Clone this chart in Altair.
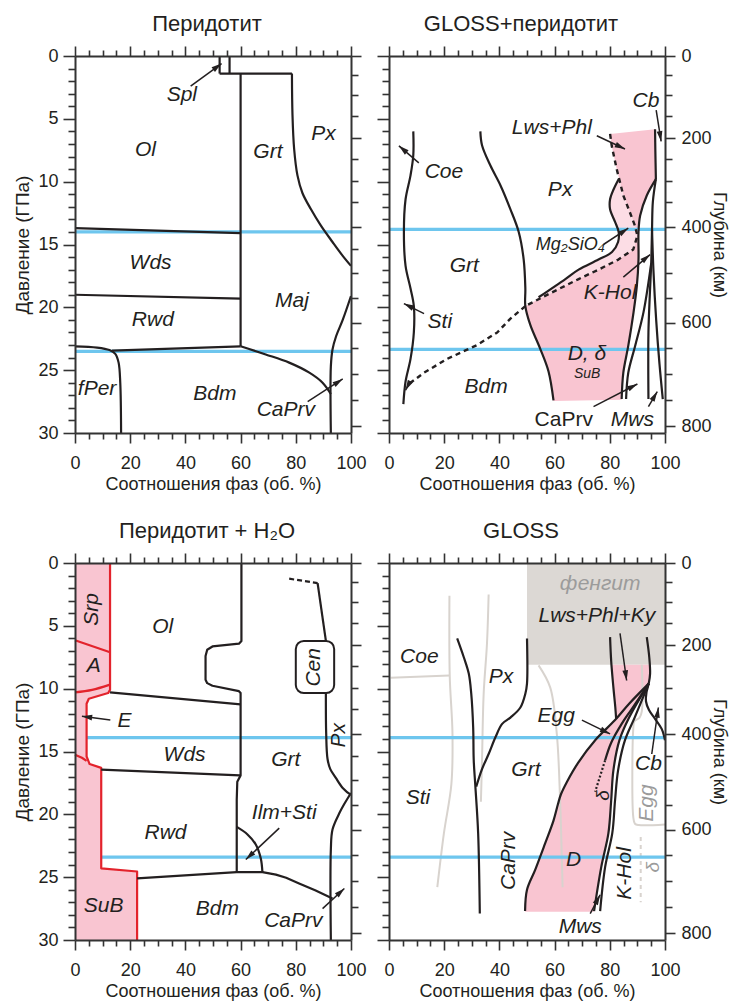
import math
import altair as alt
import pandas as pd

FONT = "Liberation Sans"
INK = "#231f20"
FRAME = "#333333"
BLUE = "#6ec6ee"
PINK = "#f9c5d1"
PINK_HATCH = "#fcdde5"
RED = "#e3232c"
GRAY_FILL = "#dcd8d4"
GRAY_LINE = "#d8d3ce"
GRAY_TEXT = "#9b9b9b"

W, H = 276, 377

# ---------------- axis ticks ----------------
X_TICKS = [0, 5, 10, 15, 20, 25, 30, 35, 40, 45, 50, 55, 60, 65, 70, 75, 80, 85, 90, 95, 100]
Y_TICKS = list(range(0, 31))
DEPTH_KM = [0, 50, 100, 150, 200, 250, 300, 350, 400, 450, 500, 550, 600, 650, 700, 750, 800]
DEPTH_GPA = [0.0, 1.49, 3.14, 4.81, 6.54, 8.19, 9.92, 11.65, 13.64, 15.37, 17.29, 19.23,
             21.22, 23.21, 25.27, 27.34, 29.47]

# ---------------- panel 1: Перидотит ----------------
P1_SPL_L = [(52.4, 0), (52.4, 1.4)]
P1_SPL_R = [(56.0, 0), (56.0, 1.4)]
P1_TOP = [(52.4, 1.4), (78.6, 1.4)]
P1_V60 = [(60, 1.4), (60, 23.1)]
P1_OL_WDS = [(0, 13.7), (60, 14.1)]
P1_WDS_RWD = [(0, 19.0), (60, 19.3)]
P1_RWD_BDM = [(13.4, 23.45), (60, 23.1)]
P1_GRT_PX = [(78.6, 1.4), (78.8, 4.7), (79.4, 7.4), (80.6, 9.5), (82.4, 10.9), (85.5, 12.2),
             (89.1, 13.5), (93.3, 14.8), (97.0, 15.9), (100, 16.7)]
P1_FPER = [(0, 23.1), (8, 23.2), (12.5, 23.4), (14.6, 23.7), (15.8, 24.4), (16.4, 26.0), (16.7, 30)]
P1_MAJ_BDM = [(60, 23.1), (69.1, 23.75), (77.6, 24.4), (84.9, 25.2), (89.7, 26.0), (92.7, 26.9)]
P1_CAPRV = [(92.7, 30), (92.7, 24.7), (93.3, 23.35), (94.6, 22.3), (97.0, 21.0), (100, 19.1)]
P1_BLUE = [(14.0, 0, 100), (23.5, 0, 100)]
P1_LABELS = [("Spl", 38.7, 3.1, 0, 21), ("Ol", 25.5, 7.5, 0, 21), ("Grt", 69.9, 7.6, 0, 21),
             ("Px", 90.0, 6.2, 0, 21), ("Wds", 27.4, 16.5, 0, 21), ("Maj", 78.6, 19.5, 0, 21),
             ("Rwd", 28.2, 21.0, 0, 21), ("fPer", 8.0, 26.5, 0, 21), ("Bdm", 50.7, 26.9, 0, 21),
             ("CaPrv", 76.4, 28.2, 0, 21)]
P1_ARROWS = [(41.9, 2.4, 53.1, 0.6), (84.3, 27.5, 97.0, 25.7)]

# ---------------- panel 2: GLOSS+перидотит ----------------
P2_COE = [(8.8, 6.0), (8.8, 7.9), (7.8, 9.5), (6.0, 11.4), (5.4, 14.0), (6.0, 16.7), (7.8, 18.5),
          (9.0, 19.9), (9.0, 22.0), (7.8, 24.1), (6.0, 25.9), (5.2, 27.7)]
P2_GRT = [(33.1, 6.0), (33.7, 7.1), (36.7, 8.7), (40.4, 10.3), (44.0, 12.2), (47.0, 14.0), (48.8, 16.2),
          (49.4, 18.5), (49.4, 19.9), (51.2, 21.4), (54.8, 23.3), (57.8, 25.1), (59.6, 27.4)]
P2_MGSI = [(83.2, 9.8), (81.4, 10.6), (80.1, 11.4), (80.1, 12.2), (81.9, 13.2), (83.2, 14.0), (83.0, 14.8),
           (80.8, 15.6), (75.9, 16.2), (68.7, 17.0), (63.9, 17.75), (54.2, 19.2)]
P2_DASH_UP = [(80.1, 6.2), (80.7, 7.15), (82.5, 9.0), (84.9, 11.1), (87.3, 12.45), (89.1, 13.5), (90.0, 14.3),
              (88.5, 15.4), (83.1, 16.2), (75.9, 17.0), (68.7, 17.75), (57.8, 18.95), (49.4, 19.9)]
P2_DASH_LOW = [(49.4, 19.9), (44.0, 20.9), (39.2, 22.0), (31.9, 23.0), (21.1, 24.1), (12.7, 25.2), (7.2, 26.1)]
P2_EDGE = [(96.4, 5.83), (96.5, 7.5), (96.7, 9.8)]
P2_LA = [(96.7, 9.8), (93.4, 11.1), (91.0, 12.7), (90.4, 14.0), (90.4, 16.2), (89.8, 18.3), (88.6, 20.4),
         (86.7, 23.05), (84.9, 25.2), (84.3, 27.3)]
P2_LB = [(95.0, 16.5), (92.2, 20.4), (89.2, 23.05), (86.7, 25.2), (85.9, 27.3)]
P2_LC = [(96.7, 9.8), (95.6, 11.6), (95.3, 13.8), (95.0, 16.5), (94.5, 19.0), (94.0, 22.0), (94.0, 27.3)]
P2_LD = [(95.3, 13.8), (95.8, 17.0), (96.8, 21.0), (98.0, 24.5), (99.2, 27.3)]
P2_PINK = [(80.1, 6.2), (96.4, 5.83), (96.5, 7.5), (96.7, 9.8), (93.4, 11.1), (91.0, 12.7), (90.4, 14.0),
           (90.4, 16.2), (89.8, 18.3), (88.6, 20.4), (86.7, 23.05), (84.9, 25.2), (84.3, 27.35),
           (59.6, 27.45), (57.8, 25.1), (54.8, 23.3), (51.2, 21.4), (49.4, 19.9), (57.8, 18.95),
           (68.7, 17.75), (75.9, 17.0), (83.1, 16.2), (88.5, 15.4), (90.0, 14.3), (89.1, 13.5),
           (87.3, 12.45), (84.9, 11.1), (82.5, 9.0), (80.7, 7.15)]
P2_HATCH = [(83.2, 9.8), (81.4, 10.6), (80.1, 11.4), (80.1, 12.2), (81.9, 13.2), (83.2, 14.0), (83.0, 14.8),
            (80.8, 15.6), (75.9, 16.2), (68.7, 17.0), (63.9, 17.75), (54.2, 19.2), (52.0, 19.6),
            (57.8, 18.95), (68.7, 17.75), (75.9, 17.0), (83.1, 16.2), (88.5, 15.4), (90.0, 14.3),
            (89.1, 13.5), (87.3, 12.45), (84.9, 11.1), (83.6, 9.9)]
P2_BLUE = [(13.8, 0, 100), (23.35, 0, 100)]
P2_LABELS = [("Coe", 19.9, 9.2, 0, 21), ("Sti", 18.4, 21.2, 0, 21), ("Grt", 27.3, 16.7, 0, 21),
             ("Px", 62.0, 10.7, 0, 21), ("Lws+Phl", 59.0, 5.75, 0, 21), ("Cb", 93.1, 3.6, 0, 21),
             ("Mg₂SiO₄", 65.7, 15.0, 0, 18), ("K-Hol", 80.1, 18.85, 0, 21), ("D, δ", 71.7, 23.75, 0, 21),
             ("SuB", 71.8, 25.3, 0, 14), ("Bdm", 35.2, 26.3, 0, 21), ("Mws", 88.2, 29.0, 0, 21)]
P2_LABELS_UPRIGHT = [("CaPrv", 63.3, 29.0, 0, 21)]
P2_ARROWS = [(10.8, 8.5, 3.6, 7.15), (12.7, 20.5, 5.4, 19.7), (75.3, 6.35, 85.5, 7.4),
             (96.8, 4.3, 98.6, 6.8), (77.7, 15.0, 86.7, 13.7), (84.9, 17.6, 94.6, 15.8),
             (74.1, 27.9, 90.0, 26.1), (94.0, 27.9, 97.2, 26.7), (7.2, 26.1, 6.0, 26.6)]

# ---------------- panel 3: Перидотит + H2O ----------------
P3_PINK = [(0, 0), (12.7, 0), (12.7, 10.1), (12.0, 10.35), (5.0, 10.8), (4.2, 11.2), (4.2, 15.4),
           (5.3, 16.0), (9.5, 16.3), (9.5, 24.3), (22.5, 24.55), (22.5, 30), (0, 30)]
P3_RED_OUT = [(12.7, 0), (12.7, 10.1), (12.0, 10.35), (5.0, 10.8), (4.2, 11.2), (4.2, 15.4),
              (5.3, 16.0), (9.5, 16.3), (9.5, 24.3), (22.5, 24.55), (22.5, 30)]
P3_RED_SRP = [(0, 6.15), (12.7, 7.1)]
P3_RED_A = [(0, 10.3), (6.2, 10.1), (12.4, 9.7)]
P3_RED_E = [(0, 15.25), (2.5, 15.5), (4.2, 15.75)]
P3_OL_WDS = [(12.7, 10.3), (60, 11.25)]
P3_WDS_RWD = [(9.5, 16.45), (59.8, 16.9)]
P3_OL_GRT = [(60.3, 0), (60.3, 6.2), (59.4, 6.42), (49.8, 6.64), (47.9, 6.9), (47.3, 7.4), (47.3, 9.3),
             (47.9, 9.56), (49.8, 9.77), (59.4, 10.2), (60, 10.35), (60, 16.9), (58.8, 17.4),
             (58.6, 18.85), (58.6, 24.6)]
P3_BDM = [(22.5, 25.1), (58.6, 24.6), (67.9, 24.6), (72.8, 24.8), (76.5, 25.05), (81.2, 25.5),
          (87.0, 26.05), (93.3, 26.7)]
P3_ILM = [(58.6, 21.0), (62.5, 21.6), (65.5, 22.4), (67.3, 23.5), (67.9, 24.6)]
P3_PX_DASH = [(77.6, 1.25), (87.9, 1.6)]
P3_PX_TOP = [(87.9, 1.6), (90.9, 6.2)]
P3_PX_LOW = [(90.9, 10.35), (91.0, 13.5), (91.5, 15.6), (92.5, 16.4), (94.5, 17.1), (97.0, 17.9), (100, 18.45)]
P3_CAPRV = [(100, 18.3), (97.5, 19.2), (95.8, 19.9), (93.3, 21.2), (92.7, 22.8), (92.7, 30)]
P3_CEN = [(80.0, 93.9, 6.2, 10.35)]
P3_BLUE = [(13.9, 4.2, 100), (23.4, 9.5, 100)]
P3_LABELS = [("Srp", 6.2, 3.7, 270, 21), ("A", 6.8, 8.2, 0, 21), ("Ol", 31.8, 5.1, 0, 21),
             ("Cen", 86.7, 8.3, 270, 21), ("E", 17.9, 12.6, 0, 21), ("Wds", 39.7, 15.3, 0, 21),
             ("Grt", 76.4, 15.7, 0, 21), ("Px", 95.5, 13.7, 270, 21), ("Ilm+Sti", 75.8, 19.9, 0, 21),
             ("Rwd", 32.8, 21.5, 0, 21), ("SuB", 10.4, 27.3, 0, 21), ("Bdm", 51.6, 27.5, 0, 21),
             ("CaPrv", 79.1, 28.5, 0, 21)]
P3_ARROWS = [(12.8, 12.5, 2.5, 12.2), (74.0, 21.1, 61.9, 23.6), (89.7, 27.5, 97.6, 25.9)]

# ---------------- panel 4: GLOSS ----------------
P4_PHENGITE = [(50.0, 100.0, 0.0, 8.1)]
P4_GRAY = [
    [(0.6, 9.13), (21.9, 8.95)],
    [(21.9, 2.6), (22.0, 8.95), (23.0, 13.6), (22.6, 17.6), (19.9, 21.5), (17.5, 25.8)],
    [(36.1, 2.5), (35.5, 6.4), (34.3, 10.4), (33.7, 15.7), (33.3, 19.0)],
    [(54.2, 8.15), (58.4, 9.9), (60.8, 13.6), (62.0, 18.9), (62.7, 24.2), (62.9, 25.8)],
    [(91.6, 8.1), (91.6, 11.8), (90.8, 12.3), (88.9, 12.6), (88.5, 13.2), (88.5, 20.2), (89.1, 20.75),
     (90.5, 20.85), (100, 20.8)],
]
P4_GRAY_DASH = [(91.2, 21.8), (91.2, 27.0)]
P4_STI_PX = [(24.7, 6.0), (27.1, 7.5), (28.9, 8.8), (29.8, 10.4), (30.5, 13.1), (30.7, 15.7), (31.3, 17.8),
             (32.3, 21.5), (32.9, 27.9)]
P4_PX_GRT = [(50.0, 6.0), (50.0, 9.6), (49.4, 10.4), (47.6, 11.5), (44.0, 12.3), (41.0, 12.8), (38.6, 13.85),
             (36.1, 15.2), (33.7, 16.4), (31.6, 17.8)]
P4_LWS = [(80.1, 5.9), (80.5, 7.8), (81.3, 9.9), (82.0, 11.5), (82.3, 12.4)]
P4_CB = [(93.4, 5.9), (94.3, 7.5), (94.6, 8.8), (94.1, 9.6), (93.3, 10.3), (93.1, 11.0), (94.2, 11.7),
         (96.4, 12.4), (98.8, 13.2), (100, 14.1)]
P4_FAN1 = [(94.1, 9.6), (87.0, 11.2), (81.9, 12.5), (74.7, 14.1), (68.5, 15.9), (64.5, 17.4), (62.3, 18.4),
           (61.2, 19.2), (59.6, 20.5), (56.6, 22.3), (53.0, 24.4), (50.0, 26.0), (49.3, 27.7)]
P4_FAN2 = [(94.1, 9.6), (88.0, 11.6), (84.3, 12.8), (80.5, 14.3), (78.3, 15.7)]
P4_FAN2_DOT = [(78.3, 15.7), (74.7, 18.2)]
P4_FAN3 = [(94.1, 9.6), (87.0, 12.3), (83.5, 14.1), (81.3, 16.5), (80.5, 18.9), (79.5, 21.5), (76.9, 24.2),
           (74.3, 27.7)]
P4_FAN4 = [(94.1, 9.6), (89.0, 12.3), (85.5, 14.1), (83.0, 16.5), (81.9, 18.9), (80.9, 21.5), (78.3, 24.2),
           (76.5, 27.7)]
P4_PINK = [(80.7, 8.1), (94.6, 8.1), (94.4, 8.8), (94.1, 9.6), (87.0, 12.3), (83.5, 14.1), (81.3, 16.5),
           (80.5, 18.9), (79.5, 21.5), (76.9, 24.2), (74.3, 27.75), (49.3, 27.75), (50.0, 26.0),
           (53.0, 24.4), (56.6, 22.3), (59.6, 20.5), (61.2, 19.2), (62.3, 18.4), (64.5, 17.4),
           (68.5, 15.9), (74.7, 14.1), (81.9, 12.5), (82.0, 11.5), (81.3, 9.9), (80.8, 8.5)]
P4_BLUE = [(13.9, 0, 100), (23.4, 0, 100)]
P4_LABELS = [("Lws+Phl+Ky", 75.3, 4.2, 0, 21), ("Coe", 11.0, 7.5, 0, 21), ("Px", 40.6, 9.1, 0, 21),
             ("Egg", 60.6, 12.2, 0, 21), ("Grt", 49.6, 16.5, 0, 21), ("Cb", 94.0, 16.0, 0, 21),
             ("Sti", 10.5, 18.7, 0, 21), ("CaPrv", 43.6, 23.7, 270, 21), ("D", 66.9, 23.6, 0, 21),
             ("K-Hol", 85.5, 24.7, 270, 21), ("δ", 77.5, 18.5, 270, 19), ("Mws", 69.3, 29.0, 0, 21)]
P4_LABELS_GRAY = [("фенгит", 76.5, 1.7, 0, 21), ("Egg", 93.4, 19.1, 270, 21), ("δ", 95.8, 24.2, 270, 19)]
P4_ARROWS = [(83.7, 5.6, 86.1, 9.35), (69.9, 12.5, 80.1, 13.6), (95.2, 15.2, 97.6, 11.5),
             (72.9, 27.9, 76.5, 26.4)]

# ---------------- helpers ----------------
XS = alt.Scale(domain=[0, 100], nice=False, zero=False)
YS = alt.Scale(domain=[0, 30], reverse=True, nice=False, zero=False)
X = alt.X("x:Q", scale=XS, axis=None)
Y = alt.Y("y:Q", scale=YS, axis=None)
ARROW = "M0,0L0.5,1.8L-0.5,1.8Z"

AX = dict(domainColor=FRAME, domainWidth=2, tickColor=FRAME, tickWidth=1.6, grid=False,
          labelFont=FONT, labelFontSize=18, labelColor=INK, titleFont=FONT, titleFontWeight="normal",
          titleColor=INK, labelOverlap=False, labelFlush=False, zindex=2)

X_MAJOR = {"condition": {"test": "datum.value % 20 === 0", "value": 10}, "value": 6}
Y_MAJOR = {"condition": {"test": "datum.value % 5 === 0", "value": 12}, "value": 7}
major_depth = [g for g, k in zip(DEPTH_GPA, DEPTH_KM) if k % 200 == 0]
D_MAJOR = {"condition": {"test": "indexof(%s, datum.value) >= 0" % str(major_depth), "value": 10}, "value": 7}
depth_expr = "''"
for g, k in reversed([(g, k) for g, k in zip(DEPTH_GPA, DEPTH_KM) if k % 200 == 0]):
    depth_expr = "datum.value === %s ? '%d' : (%s)" % (g, k, depth_expr)

AX_BOTTOM = alt.Axis(orient="bottom", values=X_TICKS, tickSize=X_MAJOR, labelPadding=11,
                     labelExpr="datum.value % 20 === 0 ? datum.label : ''",
                     title="Соотношения фаз (об. %)", titleFontSize=18, titlePadding=3, **AX)
AX_TOP = alt.Axis(orient="top", values=X_TICKS, tickSize=X_MAJOR, labels=False, title=None, **AX)
AX_LEFT = alt.Axis(orient="left", values=Y_TICKS, tickSize=Y_MAJOR, labelPadding=5,
                   labelExpr="datum.value % 5 === 0 ? datum.label : ''",
                   title="Давление (ГПа)", titleFontSize=19, titlePadding=5, **AX)
AX_LEFT_BARE = alt.Axis(orient="left", values=Y_TICKS, tickSize=Y_MAJOR, labels=False, title=None, **AX)
AX_RIGHT = alt.Axis(orient="right", values=DEPTH_GPA, tickSize=D_MAJOR, labelPadding=6,
                    labelExpr=depth_expr, title="Глубина (км)", titleFontSize=18, titlePadding=-2, **AX)
AX_RIGHT_BARE = alt.Axis(orient="right", values=DEPTH_GPA, tickSize=D_MAJOR, labels=False, title=None, **AX)

AXIS_DF = pd.DataFrame({"x": [0.0], "y": [0.0]})


def lines_df(items):
    rows = []
    for i, pts in enumerate(items):
        for j, (x, y) in enumerate(pts):
            rows.append({"id": i, "ord": j, "x": x, "y": y})
    return pd.DataFrame(rows)


def line_layer(items, color=INK, width=2.2, dash=None, interp="linear"):
    kw = dict(color=color, strokeWidth=width, interpolate=interp, strokeCap="butt", strokeJoin="round")
    if dash:
        kw["strokeDash"] = dash
    return alt.Chart(lines_df(items)).mark_line(**kw).encode(
        x=X, y=Y, detail="id:N", order="ord:Q")


def fill_layer(items, color):
    return alt.Chart(lines_df(items)).mark_line(fill=color, strokeOpacity=0, strokeWidth=0).encode(
        x=X, y=Y, detail="id:N", order="ord:Q")


def rect_layer(rects, fill, stroke=None, radius=0):
    df = pd.DataFrame(rects, columns=["x", "x2", "y", "y2"])
    kw = dict(fill=fill, cornerRadius=radius)
    if stroke:
        kw.update(stroke=stroke, strokeWidth=2)
    return alt.Chart(df).mark_rect(**kw).encode(x=X, x2="x2:Q", y=Y, y2="y2:Q")


def blue_layer(blues):
    df = pd.DataFrame(blues, columns=["y", "x", "x2"])
    return alt.Chart(df).mark_rule(color=BLUE, strokeWidth=3.2).encode(x=X, x2="x2:Q", y=Y)


def text_layer(rows, italic=True, color=INK):
    df = pd.DataFrame(rows, columns=["text", "x", "y", "angle", "size"])
    return alt.Chart(df).mark_text(font=FONT, fontStyle="italic" if italic else "normal", color=color,
                                   align="center", baseline="middle").encode(
        x=X, y=Y, text="text:N", angle=alt.Angle("angle:Q", scale=None),
        size=alt.Size("size:Q", scale=None))


def arrow_layers(arrows):
    df = pd.DataFrame(arrows, columns=["x", "y", "x2", "y2"])
    df["ang"] = [(math.degrees(math.atan2((r.x2 - r.x) * W / 100.0, -(r.y2 - r.y) * H / 30.0)) + 360) % 360
                 for r in df.itertuples()]
    shaft = alt.Chart(df).mark_rule(color=INK, strokeWidth=1.5).encode(x=X, y=Y, x2="x2:Q", y2="y2:Q")
    head = alt.Chart(df).mark_point(shape=ARROW, filled=True, color=INK, opacity=1, size=130,
                                    strokeWidth=0).encode(
        x=alt.X("x2:Q", scale=XS, axis=None), y=alt.Y("y2:Q", scale=YS, axis=None),
        angle=alt.Angle("ang:Q", scale=None))
    return [shaft, head]


def panel(title, left_labels, right_labels, layers):
    a1 = alt.Chart(AXIS_DF).mark_point(opacity=0).encode(
        x=alt.X("x:Q", scale=XS, axis=AX_BOTTOM),
        y=alt.Y("y:Q", scale=YS, axis=AX_LEFT if left_labels else AX_LEFT_BARE))
    a2 = alt.Chart(AXIS_DF).mark_point(opacity=0).encode(
        x=alt.X("x:Q", scale=XS, axis=AX_TOP),
        y=alt.Y("y:Q", scale=YS, axis=AX_RIGHT if right_labels else AX_RIGHT_BARE))
    return alt.layer(a1, a2, *layers).resolve_axis(x="independent", y="independent").properties(
        width=W, height=H,
        title=alt.TitleParams(text=title, font=FONT, fontSize=22, fontWeight="normal", color=INK,
                              anchor="middle", frame="group", offset=9, dx=-6))


p1 = panel("Перидотит", True, False, [
    blue_layer(P1_BLUE),
    line_layer([P1_SPL_L, P1_SPL_R, P1_TOP, P1_V60, P1_OL_WDS, P1_WDS_RWD, P1_RWD_BDM]),
    line_layer([P1_GRT_PX, P1_FPER, P1_MAJ_BDM, P1_CAPRV], interp="catmull-rom"),
    text_layer(P1_LABELS),
    *arrow_layers(P1_ARROWS),
])

p2 = panel("GLOSS+перидотит", False, True, [
    fill_layer([P2_PINK], PINK),
    fill_layer([P2_HATCH], PINK_HATCH),
    blue_layer(P2_BLUE),
    line_layer([P2_COE, P2_GRT, P2_MGSI, P2_EDGE, P2_LA, P2_LB, P2_LC, P2_LD], interp="catmull-rom"),
    line_layer([P2_DASH_UP, P2_DASH_LOW], dash=[5, 4], width=2.4),
    text_layer(P2_LABELS),
    text_layer(P2_LABELS_UPRIGHT, italic=False),
    *arrow_layers(P2_ARROWS),
])

p3 = panel("Перидотит + H₂O", True, False, [
    fill_layer([P3_PINK], PINK),
    blue_layer(P3_BLUE),
    line_layer([P3_RED_OUT, P3_RED_SRP, P3_RED_E], color=RED),
    line_layer([P3_RED_A], color=RED, interp="catmull-rom"),
    line_layer([P3_OL_WDS, P3_WDS_RWD, P3_OL_GRT, P3_BDM, P3_PX_TOP]),
    line_layer([P3_ILM, P3_PX_LOW, P3_CAPRV], interp="catmull-rom"),
    line_layer([P3_PX_DASH], dash=[5, 3]),
    rect_layer(P3_CEN, "white", stroke=INK, radius=8),
    text_layer(P3_LABELS),
    *arrow_layers(P3_ARROWS),
])

p4 = panel("GLOSS", False, True, [
    rect_layer(P4_PHENGITE, GRAY_FILL),
    fill_layer([P4_PINK], PINK),
    line_layer(P4_GRAY, color=GRAY_LINE, width=2, interp="catmull-rom"),
    line_layer([P4_GRAY_DASH], color=GRAY_LINE, width=2, dash=[4, 4]),
    blue_layer(P4_BLUE),
    line_layer([P4_STI_PX, P4_PX_GRT, P4_LWS, P4_CB, P4_FAN1, P4_FAN2, P4_FAN3, P4_FAN4],
               interp="catmull-rom"),
    line_layer([P4_FAN2_DOT], dash=[2, 2]),
    text_layer(P4_LABELS),
    text_layer(P4_LABELS_GRAY, color=GRAY_TEXT),
    *arrow_layers(P4_ARROWS),
])

chart = alt.concat(p1, p2, p3, p4, columns=2, spacing={"row": 130, "column": 38},
                   bounds="flush").properties(
    padding={"left": 13, "top": 13, "right": 6, "bottom": 5}
).configure_view(strokeWidth=0)

chart.save("out.html", embed_options={"renderer": "svg", "actions": False})
